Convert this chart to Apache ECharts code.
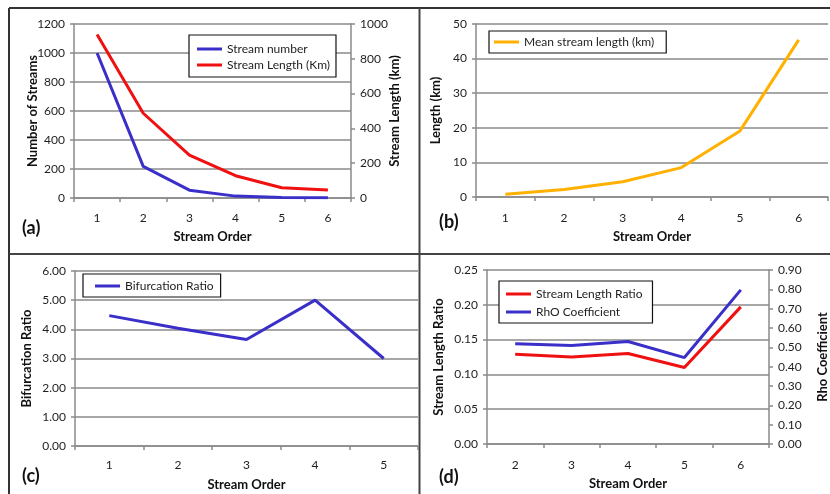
<!DOCTYPE html>
<html><head><meta charset="utf-8">
<script src="https://cdn.jsdelivr.net/npm/echarts@6/dist/echarts.min.js"></script>
<style>html,body{margin:0;padding:0;background:#fff}#c{width:830px;height:494px}</style>
</head><body><div id="c"></div>
<script>
// ---- data ----
const ordersA = ['1','2','3','4','5','6'];
const streamNumber = [1000, 218, 54, 13, 3, 1];
const streamLength = [940, 487, 247, 128, 59, 46];
const ordersB = ['1','2','3','4','5','6'];
const meanLength = [0.8, 2.2, 4.4, 8.5, 19.1, 45.4];
const ordersC = ['1','2','3','4','5'];
const bifurcation = [4.47, 4.04, 3.65, 5.0, 3.0];
const ordersD = ['2','3','4','5','6'];
const lengthRatio = [0.129, 0.125, 0.130, 0.110, 0.197];
const rhoCoef = [0.518, 0.509, 0.530, 0.447, 0.797];

const FONT = 'Lato';
const BLUE = '#3a2fc8', RED = '#f01010', ORANGE = '#ffb000';
const AX = '#8a8a8a', TXT = '#1e1e1e';

function xAxis(grid, data, margin, gap) {
  return {type:'category', gridIndex:grid, data:data, boundaryGap:true,
    axisLine:{lineStyle:{color:AX,width:1.5}},
    axisTick:{show:true,length:4,lineStyle:{color:AX,width:1.5}},
    axisLabel:{color:TXT,fontFamily:FONT,fontSize:12,margin:margin},
    name:'Stream Order', nameLocation:'middle', nameGap:gap, nameMoveOverlap:false,
    nameTextStyle:{color:'#111',fontFamily:FONT,fontSize:13,fontWeight:'bold'}};
}
function yAxis(grid, name, min, max, interval, gap, pos, split, fmt) {
  return {type:'value', gridIndex:grid, position:pos, min:min, max:max, interval:interval,
    axisLine:{show:true,lineStyle:{color:AX,width:1.5}},
    axisTick:{show:true,length:4,lineStyle:{color:AX,width:1.5}},
    splitLine:{show:split,lineStyle:{color:AX,width:1.5}},
    axisLabel:{color:TXT,fontFamily:FONT,fontSize:12,margin:9,formatter:fmt},
    name:name, nameLocation:'middle', nameGap:gap, nameMoveOverlap:false,
    nameTextStyle:{color:'#111',fontFamily:FONT,fontSize:13,fontWeight:'bold'}};
}
function legend(names, left, top, pad, gap) {
  return {data:names, left:left, top:top, orient:'vertical', icon:'rect',
    itemWidth:25, itemHeight:3, itemGap:gap, padding:pad,
    borderColor:'#111', borderWidth:1.2, backgroundColor:'#fff', borderRadius:0,
    textStyle:{color:TXT,fontFamily:FONT,fontSize:12,lineHeight:14}};
}
function line(name, x, y, data, color) {
  return {type:'line', name:name, xAxisIndex:x, yAxisIndex:y, data:data, symbol:'none',
    lineStyle:{color:color,width:3}, itemStyle:{color:color}, animation:false};
}
const f2 = v => v.toFixed(2);
const f0 = v => String(v);

const chart = echarts.init(document.getElementById('c'), null, {renderer:'canvas'});
chart.setOption({
  animation:false,
  textStyle:{fontFamily:FONT},
  grid:[
    {left:74, top:24, width:277, height:174},
    {left:476, top:24, width:352, height:173},
    {left:75, top:271, width:343, height:175},
    {left:487, top:270, width:283, height:174}
  ],
  xAxis:[
    xAxis(0, ordersA, 14, 32),
    xAxis(1, ordersB, 15, 33),
    xAxis(2, ordersC, 13, 32),
    xAxis(3, ordersD, 15, 33)
  ],
  yAxis:[
    yAxis(0, 'Number of Streams', 0, 1200, 200, 35, 'left', true, f0),
    yAxis(0, 'Stream Length (km)', 0, 1000, 200, 37, 'right', false, f0),
    yAxis(1, 'Length (km)', 0, 50, 10, 34, 'left', true, f0),
    yAxis(2, 'Bifurcation Ratio', 0, 6, 1, 42, 'left', true, f2),
    yAxis(3, 'Stream Length Ratio', 0, 0.25, 0.05, 42, 'left', true, f2),
    yAxis(3, 'Rho Coefficient', 0, 0.9, 0.1, 47, 'right', false, f2)
  ],
  legend:[
    legend(['Stream number','Stream Length (Km)'], 189, 35, [7,6,5,8], 2),
    legend(['Mean stream length (km)'], 489, 31, [4,12,4,5], 2),
    legend(['Bifurcation Ratio'], 83, 274, [5,7,4,12], 2),
    legend(['Stream Length Ratio','RhO Coefficient'], 499, 281, [6,10,4,7], 4)
  ],
  series:[
    line('Stream number', 0, 0, streamNumber, BLUE),
    line('Stream Length (Km)', 0, 1, streamLength, RED),
    line('Mean stream length (km)', 1, 2, meanLength, ORANGE),
    line('Bifurcation Ratio', 2, 3, bifurcation, BLUE),
    line('Stream Length Ratio', 3, 4, lengthRatio, RED),
    line('RhO Coefficient', 3, 5, rhoCoef, BLUE)
  ],
  graphic:[
    {type:'line', shape:{x1:9,y1:8,x2:830,y2:8}, style:{stroke:'#333',lineWidth:2}},
    {type:'line', shape:{x1:9,y1:8,x2:9,y2:494}, style:{stroke:'#333',lineWidth:2}},
    {type:'line', shape:{x1:9,y1:254,x2:830,y2:254}, style:{stroke:'#444',lineWidth:2}},
    {type:'line', shape:{x1:419.5,y1:8,x2:419.5,y2:494}, style:{stroke:'#444',lineWidth:2}},
    {type:'text', left:22, top:219, style:{text:'(a)',fill:'#111',font:'bold 18px Lato'}},
    {type:'text', left:439, top:213, style:{text:'(b)',fill:'#111',font:'bold 18px Lato'}},
    {type:'text', left:22, top:467, style:{text:'(c)',fill:'#111',font:'bold 18px Lato'}},
    {type:'text', left:439, top:468, style:{text:'(d)',fill:'#111',font:'bold 18px Lato'}}
  ]
});
</script></body></html>
